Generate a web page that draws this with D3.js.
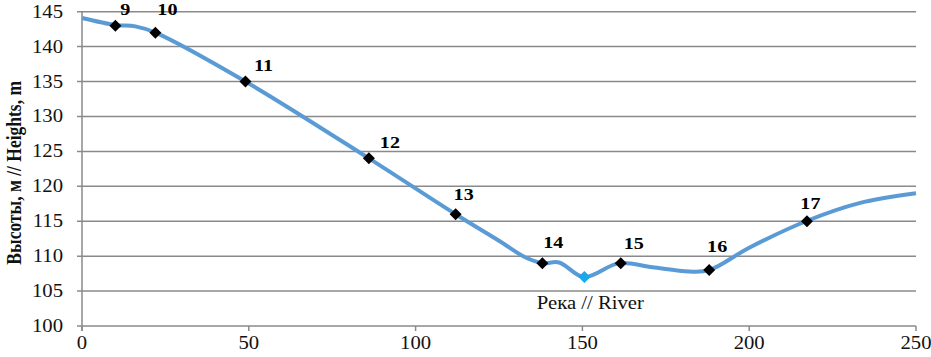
<!DOCTYPE html>
<html><head><meta charset="utf-8">
<script src="https://cdn.jsdelivr.net/npm/d3@7"></script>
<style>body{margin:0;background:#fff}svg{display:block}
text{font-family:"Times New Roman","Liberation Serif","DejaVu Serif",serif}</style>
</head><body>
<svg id="c" width="931" height="357"></svg>
<script>
// Terrain profile (distance, height)
const profileX = [0, 10, 16, 22, 49, 86, 112, 125, 133, 138, 143, 150.5, 161, 171, 182, 188, 200, 217, 233, 250];
const profileY = [144.1, 143.1, 142.9, 142, 135, 124, 116, 112.2, 109.8, 109, 109.1, 107, 109, 108.4, 107.8, 108, 111.2, 115, 117.6, 119];
// Numbered survey points
const pointLabels = ["9", "10", "11", "12", "13", "14", "15", "16", "17"];
const pointX = [10, 22, 49, 86, 112, 138, 161.5, 188, 217.3];
const pointY = [143, 142, 135, 124, 116, 109, 109, 108, 115];
// River point
const riverX = [150.6];
const riverY = [107];
const riverLabel = "Река // River";
const xTicks = [0, 50, 100, 150, 200, 250];
const yTicks = [100, 105, 110, 115, 120, 125, 130, 135, 140, 145];
const yTitle = "Высоты, м // Heights, m";

const svg = d3.select("#c");
const L = 82, R = 916, T = 11.7, B = 326;
const x = d3.scaleLinear().domain([0, 250]).range([L, R]);
const y = d3.scaleLinear().domain([100, 145]).range([B, T]);
const grid = "#8a8a8a";
const SX = 1.15; // horizontal stretch of the text in the source picture
const place = (px, py) => `translate(${px},${py}) scale(${SX},1)`;
// label offsets (px) from each marker, as placed in the source chart
const labelOffset = {
  "9": [10, -10.5], "10": [12, -17.5], "11": [18, -11], "12": [21, -10], "13": [8, -14],
  "14": [11, -15.5], "15": [13, -14.5], "16": [8, -18], "17": [3.5, -12.5]
};

// gridlines
svg.append("g").selectAll("line").data(yTicks).join("line")
  .attr("x1", L - 5).attr("x2", R).attr("y1", d => y(d)).attr("y2", d => y(d))
  .attr("stroke", grid).attr("stroke-width", 1.5);
// y axis line
svg.append("line").attr("x1", L).attr("x2", L).attr("y1", T).attr("y2", B + 5)
  .attr("stroke", grid).attr("stroke-width", 1.5);
// x ticks
svg.append("g").selectAll("line").data(xTicks).join("line")
  .attr("x1", d => x(d)).attr("x2", d => x(d)).attr("y1", B).attr("y2", B + 5)
  .attr("stroke", grid).attr("stroke-width", 1.5);

// tick labels
svg.append("g").selectAll("text").data(yTicks).join("text")
  .attr("transform", d => place(63, y(d) + 6)).attr("text-anchor", "end")
  .attr("font-size", 18).attr("fill", "#111").text(d => d);
svg.append("g").selectAll("text").data(xTicks).join("text")
  .attr("transform", d => place(x(d), 349)).attr("text-anchor", "middle")
  .attr("font-size", 18).attr("fill", "#111").text(d => d);

// y title
svg.append("text").attr("transform", `translate(21,${(T + B) / 2 + 4}) scale(${SX},1) rotate(-90)`)
  .attr("text-anchor", "middle").attr("font-size", 17.5)
  .attr("font-weight", "bold").attr("fill", "#111").text(yTitle);

// profile line
const prof = profileX.map((d, i) => [d, profileY[i]]);
svg.append("path").datum(prof)
  .attr("d", d3.line().x(d => x(d[0])).y(d => y(d[1])).curve(d3.curveCatmullRom.alpha(0.5)))
  .attr("fill", "none").attr("stroke", "#5b9bd5").attr("stroke-width", 4)
  .attr("stroke-linejoin", "round");

// markers
const pts = pointX.map((d, i) => ({x: d, y: pointY[i], label: pointLabels[i]}));
const sym = d3.symbol(d3.symbolSquare, 72);
svg.append("g").selectAll("path").data(pts).join("path")
  .attr("d", sym).attr("transform", d => `translate(${x(d.x)},${y(d.y)}) rotate(45)`)
  .attr("fill", "#000");
svg.append("g").selectAll("text").data(pts).join("text")
  .attr("transform", d => place(x(d.x) + labelOffset[d.label][0], y(d.y) + labelOffset[d.label][1]))
  .attr("text-anchor", "middle")
  .attr("font-size", 17.5).attr("font-weight", "bold").attr("fill", "#000")
  .text(d => d.label);

// river
const riv = riverX.map((d, i) => ({x: d, y: riverY[i]}));
svg.append("g").selectAll("path").data(riv).join("path")
  .attr("d", sym).attr("transform", d => `translate(${x(d.x)},${y(d.y)}) rotate(45)`)
  .attr("fill", "#1aa7ec");
svg.append("g").selectAll("text").data(riv).join("text")
  .attr("transform", d => place(x(d.x) + 6, y(d.y) + 32)).attr("text-anchor", "middle")
  .attr("font-size", 18).attr("fill", "#111").text(riverLabel);
</script>
</body></html>
